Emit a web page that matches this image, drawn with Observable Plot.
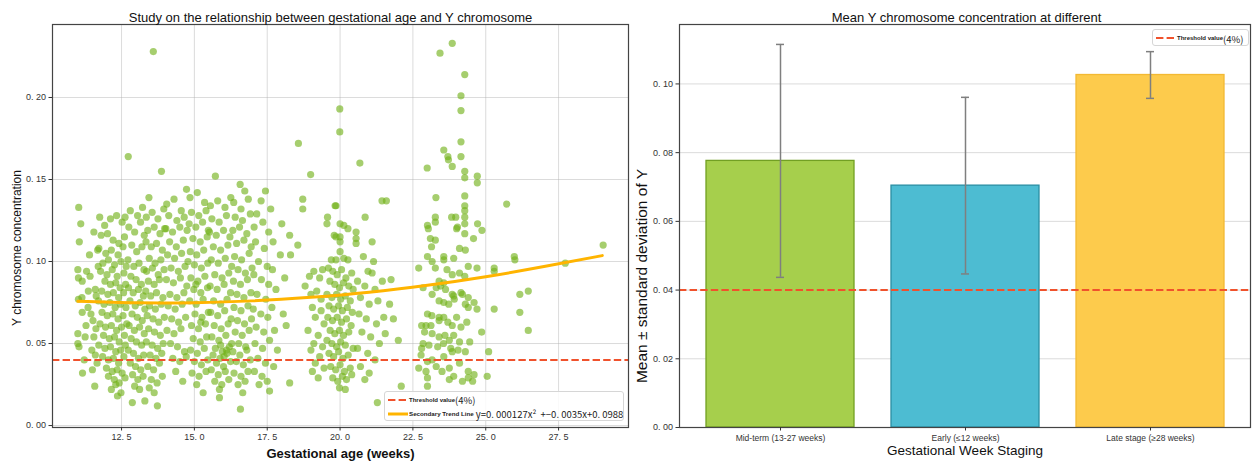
<!DOCTYPE html>
<html><head><meta charset="utf-8">
<script src="https://cdn.jsdelivr.net/npm/d3@7"></script>
<script src="https://cdn.jsdelivr.net/npm/@observablehq/plot@0.6"></script>
<style>
body{margin:0;background:#fff;}
#wrap{position:relative;width:1253px;height:468px;overflow:hidden;font-family:"Liberation Sans",Arial,sans-serif;}
.panel{position:absolute;top:0;}
.legend{position:absolute;border:1px solid #d6d6d6;background:rgba(255,255,255,0.85);border-radius:3px;box-sizing:border-box;}
.lg-row{position:absolute;left:0;white-space:pre;color:#222;line-height:12px;}
.small{font-family:"Liberation Sans Narrow","Liberation Sans",sans-serif;font-weight:bold;font-size:7px;}
.big{font-family:"Noto Sans CJK SC","Liberation Sans",sans-serif;font-size:9.5px;}
</style></head><body>
<div id="wrap"></div>
<script>
// ---------------- DATA ----------------
const threshold = 0.04;
const xTicksLeft = [12.5, 15, 17.5, 20, 22.5, 25, 27.5];
const yTicksLeft = [0, 0.05, 0.10, 0.15, 0.20];
const yTicksRight = [0, 0.02, 0.04, 0.06, 0.08, 0.10];

// quadratic trend line
const trendX = [11, 13, 15, 17, 19, 21, 23, 25, 27, 29];
const trendY = [0.0757, 0.0748, 0.0749, 0.0760, 0.0782, 0.0813, 0.0855, 0.0907, 0.0969, 0.1036];

// scatter: gestational age (weeks), Y concentration
const ptsEarly = [
[11.03,0.133],[11.05,0.112],[11.00,0.095],[11.02,0.090],[11.30,0.094],[11.15,0.088],[11.02,0.077],[11.14,0.078],[11.15,0.069],[11.00,0.056],[11.00,0.050],[11.04,0.048],[11.16,0.032],[11.25,0.054],[11.42,0.091],[11.55,0.118],[11.60,0.083],[11.63,0.079],[11.45,0.068],[11.62,0.059],[11.55,0.054],[11.60,0.043],[11.58,0.024],[11.50,0.034],[11.40,0.104],[11.35,0.072],[11.70,0.097],[11.68,0.107],[11.28,0.061],[11.48,0.046],[11.22,0.040],[11.66,0.038],[11.10,0.123],[11.36,0.082],[11.52,0.064],
[11.75,0.127],[11.92,0.122],[12.12,0.126],[12.33,0.128],[12.52,0.124],[12.62,0.127],[11.80,0.116],[12.02,0.117],[12.21,0.113],[12.41,0.111],[12.60,0.115],[11.72,0.108],[11.96,0.105],[12.15,0.107],[12.38,0.104],[12.55,0.109],[11.86,0.099],[12.05,0.101],[12.26,0.098],[12.48,0.100],[12.66,0.097],[11.78,0.094],[12.00,0.092],[12.18,0.095],[12.35,0.091],[12.58,0.093],[11.93,0.088],[12.12,0.086],[12.30,0.087],[12.45,0.084],[12.64,0.086],[11.82,0.082],[12.03,0.080],[12.22,0.081],[12.40,0.078],[12.57,0.081],[11.71,0.076],[11.90,0.074],[12.10,0.075],[12.28,0.072],[12.46,0.074],[12.65,0.072],[11.83,0.069],[12.01,0.067],[12.20,0.068],[12.38,0.065],[12.55,0.067],[11.76,0.062],[11.95,0.060],[12.15,0.061],[12.33,0.058],[12.50,0.060],[12.68,0.062],[11.88,0.055],[12.08,0.053],[12.26,0.054],[12.42,0.051],[12.60,0.055],[11.72,0.049],[11.93,0.047],[12.12,0.048],[12.30,0.045],[12.47,0.046],[12.63,0.049],[11.85,0.042],[12.05,0.040],[12.22,0.041],[12.40,0.038],[12.58,0.042],[11.98,0.035],[12.18,0.033],[12.35,0.034],[12.52,0.032],[12.05,0.030],[12.25,0.028],[12.42,0.026],[12.62,0.029],[12.15,0.022],[12.30,0.025],[12.48,0.020],[12.36,0.018]
];
const ptsMidA = [
[12.73,0.164],[12.80,0.131],[13.05,0.128],[13.22,0.133],[12.75,0.121],[12.95,0.118],[13.15,0.124],[13.28,0.116],[12.85,0.110],[13.02,0.106],[13.20,0.109],[12.72,0.101],[12.92,0.097],[13.10,0.099],[13.27,0.095],[12.82,0.091],[13.00,0.089],[13.18,0.086],[12.74,0.084],[12.90,0.081],[13.08,0.083],[13.25,0.079],[12.79,0.076],[12.97,0.073],[13.14,0.075],[13.30,0.071],[12.86,0.068],[13.04,0.066],[13.21,0.064],[12.76,0.061],[12.94,0.058],[13.12,0.060],[13.28,0.056],[12.83,0.053],[13.01,0.051],[13.19,0.049],[12.73,0.046],[12.91,0.044],[13.08,0.041],[13.26,0.043],[12.80,0.038],[12.98,0.036],[13.16,0.034],[12.88,0.031],[13.06,0.028],[13.24,0.030],[12.95,0.024],[13.12,0.022],[12.87,0.014],[13.30,0.015],
[13.59,0.228],[13.87,0.155],[13.44,0.139],[13.73,0.012],[13.35,0.127],[13.55,0.130],[13.75,0.126],[13.95,0.132],[13.40,0.119],[13.62,0.121],[13.82,0.117],[13.98,0.120],[13.34,0.112],[13.52,0.109],[13.70,0.111],[13.90,0.107],[13.45,0.102],[13.65,0.099],[13.85,0.101],[13.36,0.094],[13.56,0.096],[13.76,0.092],[13.96,0.095],[13.42,0.088],[13.62,0.086],[13.80,0.089],[13.33,0.082],[13.50,0.079],[13.70,0.081],[13.92,0.078],[13.46,0.073],[13.66,0.071],[13.86,0.074],[13.38,0.067],[13.58,0.065],[13.78,0.063],[13.97,0.066],[13.43,0.059],[13.63,0.057],[13.83,0.055],[13.35,0.051],[13.55,0.049],[13.74,0.047],[13.93,0.050],[13.48,0.043],[13.68,0.041],[13.88,0.044],[13.40,0.036],[13.60,0.034],[13.80,0.038],[13.52,0.028],[13.72,0.026],[13.90,0.030],[13.62,0.020],[13.45,0.023],
[14.73,0.144],[14.05,0.135],[14.30,0.138],[14.55,0.131],[14.12,0.128],[14.40,0.125],[14.65,0.127],[14.02,0.120],[14.25,0.118],[14.50,0.121],[14.75,0.119],[14.15,0.112],[14.38,0.109],[14.62,0.113],[14.08,0.104],[14.32,0.102],[14.56,0.105],[14.78,0.100],[14.20,0.096],[14.45,0.094],[14.68,0.097],[14.04,0.089],[14.28,0.087],[14.52,0.090],[14.74,0.085],[14.16,0.080],[14.40,0.078],[14.64,0.081],[14.10,0.073],[14.34,0.071],[14.58,0.074],[14.22,0.065],[14.46,0.063],[14.70,0.066],[14.06,0.058],[14.30,0.056],[14.54,0.059],[14.18,0.050],[14.42,0.048],[14.66,0.045],[14.26,0.041],[14.50,0.039],[14.72,0.042],[14.36,0.033],[14.60,0.027]
];
const ptsMidB = [
[14.85,0.139],[15.10,0.142],[15.35,0.136],[14.90,0.130],[15.15,0.128],[15.40,0.131],[14.82,0.123],[15.05,0.121],[15.28,0.124],[15.48,0.119],[14.95,0.114],[15.20,0.112],[15.44,0.115],[14.86,0.106],[15.08,0.104],[15.32,0.107],[15.00,0.098],[15.24,0.096],[15.46,0.099],[14.88,0.090],[15.12,0.088],[15.36,0.091],[14.98,0.083],[15.22,0.081],[15.45,0.084],[14.84,0.076],[15.06,0.074],[15.30,0.077],[15.02,0.068],[15.26,0.066],[15.48,0.069],[14.90,0.061],[15.14,0.059],[15.38,0.062],[14.96,0.053],[15.20,0.051],[15.42,0.054],[14.87,0.046],[15.10,0.044],[15.34,0.047],[15.00,0.039],[15.24,0.037],[15.46,0.040],[14.92,0.032],[15.16,0.030],[15.40,0.033],[15.08,0.025],[15.30,0.020],[15.22,0.063],[15.05,0.086],
[15.72,0.152],[15.86,0.017],[15.55,0.134],[15.80,0.137],[16.05,0.133],[16.25,0.139],[15.60,0.126],[15.85,0.124],[16.10,0.128],[15.52,0.118],[15.75,0.116],[16.00,0.119],[16.22,0.115],[15.65,0.109],[15.90,0.107],[16.15,0.110],[15.58,0.101],[15.82,0.099],[16.06,0.102],[16.28,0.097],[15.70,0.092],[15.95,0.090],[16.18,0.093],[15.54,0.085],[15.78,0.083],[16.02,0.086],[16.24,0.081],[15.66,0.076],[15.90,0.074],[16.12,0.077],[15.56,0.069],[15.80,0.067],[16.04,0.070],[16.26,0.065],[15.68,0.061],[15.92,0.059],[16.16,0.062],[15.60,0.054],[15.84,0.052],[16.08,0.055],[16.28,0.050],[15.72,0.047],[15.96,0.045],[16.20,0.048],[15.64,0.043],[15.88,0.041],[16.12,0.044],[15.76,0.038],[16.00,0.036],[16.24,0.039],[15.58,0.034],[15.82,0.031],[16.06,0.033],[15.70,0.027],[15.94,0.025],[16.18,0.028],[15.86,0.022],[16.10,0.046],[15.90,0.049],[16.02,0.042],
[16.57,0.147],[16.73,0.143],[16.58,0.010],[16.35,0.136],[16.60,0.132],[16.85,0.138],[16.40,0.127],[16.65,0.125],[16.92,0.129],[16.32,0.119],[16.55,0.121],[16.80,0.117],[16.45,0.111],[16.70,0.113],[16.95,0.109],[16.38,0.103],[16.62,0.101],[16.88,0.105],[16.50,0.095],[16.75,0.093],[16.98,0.096],[16.34,0.088],[16.58,0.086],[16.82,0.089],[16.46,0.080],[16.70,0.078],[16.94,0.081],[16.36,0.072],[16.60,0.070],[16.84,0.073],[16.48,0.064],[16.72,0.062],[16.96,0.065],[16.40,0.057],[16.64,0.055],[16.88,0.058],[16.52,0.050],[16.76,0.048],[16.32,0.045],[16.56,0.043],[16.80,0.046],[16.44,0.039],[16.68,0.037],[16.92,0.040],[16.36,0.032],[16.60,0.030],[16.84,0.033],[16.50,0.025],[16.74,0.027],[16.66,0.020],
[17.44,0.143],[17.29,0.137],[17.14,0.129],[17.58,0.021],[17.05,0.121],[17.35,0.124],[17.55,0.118],[17.10,0.112],[17.40,0.108],[17.20,0.100],[17.50,0.097],[17.04,0.092],[17.30,0.089],[17.55,0.086],[17.15,0.080],[17.45,0.077],[17.02,0.071],[17.28,0.068],[17.52,0.066],[17.12,0.060],[17.38,0.057],[17.08,0.050],[17.34,0.047],[17.58,0.052],[17.18,0.041],[17.44,0.038],[17.06,0.033],[17.32,0.030],[17.50,0.027],[17.22,0.025],
[17.62,0.132],[18.00,0.123],[18.27,0.116],[18.27,0.026],[17.70,0.112],[17.95,0.104],[17.68,0.095],[18.10,0.090],[17.80,0.083],[17.66,0.072],[18.05,0.068],[17.75,0.058],[18.15,0.061],[17.85,0.046],[17.72,0.036]
];
const ptsMidC = [
[18.57,0.172],[18.99,0.153],[19.99,0.193],[19.99,0.179],[20.68,0.160],[18.72,0.138],[18.72,0.132],[19.86,0.134],[21.44,0.137],[21.59,0.137],[19.57,0.127],[20.86,0.127],[18.55,0.110],[18.30,0.104],
[18.80,0.085],[19.00,0.080],[19.10,0.094],[18.95,0.091],[19.30,0.090],[19.40,0.095],[19.20,0.082],[19.05,0.072],[19.35,0.070],[19.15,0.066],[19.45,0.062],[18.90,0.058],[19.25,0.055],[19.10,0.050],[19.40,0.048],[19.00,0.046],[19.30,0.042],[19.15,0.038],[19.45,0.035],[19.05,0.033],[19.25,0.029],[19.35,0.077],
[19.55,0.123],[19.83,0.134],[20.00,0.123],[20.13,0.122],[20.27,0.120],[20.00,0.115],[19.86,0.115],[19.80,0.116],[20.00,0.112],[20.00,0.106],[19.86,0.101],[19.70,0.101],[20.13,0.102],[20.27,0.101],[19.60,0.096],[19.75,0.094],[19.90,0.092],[20.05,0.095],[20.20,0.090],[20.40,0.093],[19.65,0.088],[19.82,0.086],[19.98,0.084],[20.12,0.087],[20.30,0.085],[20.45,0.083],[19.55,0.080],[19.72,0.078],[19.88,0.080],[20.02,0.077],[20.18,0.079],[20.35,0.076],[19.62,0.073],[19.78,0.071],[19.95,0.073],[20.08,0.070],[20.25,0.072],[20.42,0.069],[19.58,0.066],[19.74,0.064],[19.90,0.066],[20.05,0.063],[20.22,0.065],[20.38,0.061],[19.66,0.058],[19.82,0.056],[19.98,0.058],[20.12,0.055],[20.30,0.057],[19.55,0.052],[19.72,0.050],[19.88,0.048],[20.02,0.051],[20.18,0.049],[20.45,0.047],[19.62,0.044],[19.78,0.042],[19.95,0.045],[20.10,0.041],[20.28,0.043],[19.68,0.036],[19.85,0.034],[20.00,0.037],[20.15,0.033],[20.35,0.035],[19.75,0.029],[19.92,0.027],[20.08,0.030],[20.22,0.028],[20.40,0.031],[19.98,0.023],[20.18,0.022],
[20.55,0.118],[20.55,0.114],[20.55,0.111],[21.10,0.112],[21.15,0.100],[20.80,0.103],[20.96,0.094],[21.10,0.093],[20.60,0.088],[20.85,0.085],[21.20,0.083],[21.45,0.088],[20.70,0.078],[21.00,0.074],[21.30,0.076],[20.65,0.068],[20.90,0.065],[21.25,0.062],[21.50,0.066],[20.75,0.057],[21.05,0.054],[21.35,0.050],[20.60,0.047],[20.95,0.044],[21.20,0.040],[20.70,0.036],[21.00,0.032],[20.85,0.028],[21.28,0.014],[22.10,0.024],[21.55,0.056],[21.75,0.089],[21.83,0.065],[22.00,0.052],[21.70,0.074]
];
const ptsMidD = [
[23.85,0.233],[23.43,0.227],[24.28,0.214],[24.15,0.201],[24.15,0.192],[24.15,0.173],[24.15,0.164],[23.56,0.168],[23.70,0.164],[23.72,0.162],[23.85,0.158],[22.99,0.157],[24.28,0.155],[24.28,0.151],[24.71,0.152],[24.71,0.148],[24.28,0.140],[23.29,0.139],
[24.28,0.134],[24.28,0.131],[24.28,0.127],[24.28,0.123],[24.28,0.117],[23.83,0.127],[23.97,0.127],[24.00,0.120],[24.03,0.121],[23.27,0.127],[23.27,0.124],[23.00,0.122],[23.03,0.120],[24.72,0.123],[24.87,0.119],[24.58,0.114],[23.10,0.114],[23.27,0.113],[23.14,0.109],[23.00,0.103],[24.30,0.107],[24.10,0.108],[23.90,0.102],[23.56,0.103],[23.56,0.101],[23.16,0.100],[22.70,0.096],
[23.27,0.096],[24.40,0.097],[24.70,0.096],[24.10,0.093],[24.28,0.091],[23.67,0.095],[23.85,0.092],[23.40,0.088],[23.56,0.087],[23.30,0.084],[23.45,0.085],[23.62,0.083],[23.85,0.080],[24.15,0.081],[22.85,0.084],[23.16,0.080],[23.40,0.076],[23.56,0.075],[23.73,0.074],[23.90,0.079],[23.92,0.077],[24.20,0.080],[24.40,0.078],[24.60,0.075],[24.30,0.074],[24.40,0.072],[24.70,0.071],[23.00,0.068],[23.15,0.067],[23.40,0.066],[23.56,0.066],[22.95,0.061],[23.12,0.061],[23.40,0.064],[23.70,0.063],[23.85,0.061],[24.00,0.066],[24.15,0.060],[24.35,0.063],[24.86,0.057],[22.80,0.061],[22.90,0.057],
[23.16,0.056],[23.40,0.054],[23.60,0.055],[23.75,0.052],[23.90,0.055],[24.10,0.051],[22.85,0.050],[23.05,0.049],[23.35,0.048],[23.55,0.050],[23.80,0.047],[24.05,0.046],[24.30,0.045],[24.45,0.051],[22.80,0.047],[22.78,0.043],[23.00,0.039],[23.16,0.040],[23.56,0.042],[23.85,0.045],[24.10,0.038],[22.70,0.035],[22.95,0.033],[23.00,0.029],[23.30,0.036],[23.50,0.033],[23.75,0.035],[23.90,0.030],[24.40,0.033],[24.55,0.027],[24.40,0.029],[23.00,0.024],[23.75,0.028],[24.20,0.027],[24.60,0.031]
];
const ptsLate = [
[25.29,0.096],[25.29,0.094],[25.29,0.071],[25.98,0.103],[26.00,0.101],[25.72,0.135],[26.17,0.080],[26.46,0.082],[26.17,0.069],[26.46,0.058],[27.73,0.099],[29.03,0.110],[25.10,0.045],[25.05,0.030]
];

// bar chart: stage, mean, standard deviation
const stages = ["Mid-term (13-27 weeks)", "Early (\u226412 weeks)", "Late stage (\u226528 weeks)"];
const stageMean = [0.0776, 0.0704, 0.1026];
const stageSd = [0.0339, 0.0257, 0.0068];

// styles
const barFill = ["#a6cf4c", "#4dbcd2", "#fdcb4c"];
const barStroke = ["#72a023", "#2a8ea3", "#f3b933"];
const FONT = '"Liberation Sans", Arial, sans-serif';
const dotFmt = (d, n) => d3.format(`.${n}f`)(d).replace(".", ". ");

// ---------------- LEFT PANEL ----------------
const points = [...ptsEarly, ...ptsMidA, ...ptsMidB, ...ptsMidC, ...ptsMidD, ...ptsLate].map(([x, y]) => ({x, y}));
const trend = trendX.map((x, i) => ({x, y: trendY[i]}));

const left = Plot.plot({
  width: 630, height: 468,
  marginLeft: 52, marginRight: 2, marginTop: 24, marginBottom: 41,
  style: {fontFamily: FONT, fontSize: "9px", color: "#333", background: "transparent", overflow: "visible"},
  x: {domain: [10.13, 29.9]},
  y: {domain: [-0.0012, 0.2445]},
  marks: [
    Plot.gridX(xTicksLeft, {stroke: "#b0b0b0", strokeOpacity: 0.45, strokeWidth: 1}),
    Plot.gridY(yTicksLeft, {stroke: "#b0b0b0", strokeOpacity: 0.45, strokeWidth: 1}),
    Plot.dot(points, {x: "x", y: "y", r: 3.6, fill: "#72b21a", fillOpacity: 0.63}),
    Plot.ruleY([threshold], {stroke: "#f0522c", strokeWidth: 2, strokeDasharray: "7.4,3.2"}),
    Plot.line(trend, {x: "x", y: "y", stroke: "#ffb400", strokeWidth: 3, curve: "natural"}),
    Plot.frame({stroke: "#444", strokeWidth: 1.2}),
    Plot.axisX(xTicksLeft, {tickFormat: d => dotFmt(d, 1), tickSize: 3.5, tickPadding: 3, label: null, fontSize: 9}),
    Plot.axisY(yTicksLeft, {tickFormat: d => dotFmt(d, 2), tickSize: 3.5, tickPadding: 3, label: null, fontSize: 9}),
    Plot.text(["Study on the relationship between gestational age and Y chromosome"], {frameAnchor: "top", dy: -12, dx: -10, fontSize: 13, fill: "#111"}),
    Plot.text(["Gestational age (weeks)"], {frameAnchor: "bottom", dy: 30, fontSize: 13, fontWeight: "bold", fill: "#111"}),
    Plot.text(["Y chromosome concentration"], {frameAnchor: "left", textAnchor: "middle", rotate: -90, dx: -35, dy: 22, fontSize: 12, fill: "#111"})
  ]
});
left.classList.add("panel");
left.style.left = "0px";

// ---------------- RIGHT PANEL ----------------
const table = stages.map((s, i) => ({stage: s, mean: stageMean[i], lo: stageMean[i] - stageSd[i], hi: stageMean[i] + stageSd[i], fill: barFill[i], stroke: barStroke[i]}));

const right = Plot.plot({
  width: 623, height: 468,
  marginLeft: 49, marginRight: 3, marginTop: 24, marginBottom: 41,
  style: {fontFamily: FONT, fontSize: "9px", color: "#333", background: "transparent", overflow: "visible"},
  x: {type: "band", domain: stages, paddingInner: 0.2, paddingOuter: 0.14},
  y: {domain: [0, 0.1173]},
  color: {type: "identity"},
  marks: [
    Plot.gridY(yTicksRight.slice(1), {stroke: "#b0b0b0", strokeOpacity: 0.45, strokeWidth: 1}),
    Plot.barY(table, {x: "stage", y: "mean", fill: "fill", stroke: "stroke", strokeWidth: 1.3}),
    Plot.ruleX(table, {x: "stage", y1: "lo", y2: "hi", stroke: "#7f7f7f", strokeWidth: 1.5}),
    Plot.tickY(table, {x: "stage", y: "lo", stroke: "#7f7f7f", strokeWidth: 1.5, insetLeft: 70, insetRight: 70}),
    Plot.tickY(table, {x: "stage", y: "hi", stroke: "#7f7f7f", strokeWidth: 1.5, insetLeft: 70, insetRight: 70}),
    Plot.ruleY([threshold], {stroke: "#f0522c", strokeWidth: 2, strokeDasharray: "7.4,3.2"}),
    Plot.frame({stroke: "#444", strokeWidth: 1.2}),
    Plot.axisX({tickSize: 3.5, tickPadding: 4, label: null, fontSize: 8.5}),
    Plot.axisY(yTicksRight, {tickFormat: d => dotFmt(d, 2), tickSize: 3.5, tickPadding: 3, label: null, fontSize: 9}),
    Plot.text(["Mean Y chromosome concentration at different"], {frameAnchor: "top", dy: -12, dx: 1.5, fontSize: 13, fill: "#111"}),
    Plot.text(["Gestational Week Staging"], {frameAnchor: "bottom", dy: 27, fontSize: 13.5, fill: "#111"}),
    Plot.text(["Mean \u00b1 standard deviation of Y"], {frameAnchor: "left", textAnchor: "middle", rotate: -90, dx: -37, dy: 50, fontSize: 15.5, fill: "#111"})
  ]
});
right.classList.add("panel");
right.style.left = "630px";

const wrap = document.getElementById("wrap");
wrap.appendChild(left);
wrap.appendChild(right);

// ---------------- LEGENDS ----------------
function legendBox(x, y, w, h, rows) {
  const box = document.createElement("div");
  box.className = "legend";
  Object.assign(box.style, {left: x + "px", top: y + "px", width: w + "px", height: h + "px"});
  rows.forEach(r => {
    const row = document.createElement("div");
    row.className = "lg-row";
    row.style.top = r.top + "px";
    row.style.left = "3px";
    row.style.height = "12px";
    const sw = `<svg width="20" height="12" style="vertical-align:middle">` +
      (r.dash ? `<line x1="0" y1="6" x2="20" y2="6" stroke="#f0522c" stroke-width="2" stroke-dasharray="7.4,3.2"/>`
              : `<line x1="0" y1="6" x2="20" y2="6" stroke="#ffb400" stroke-width="3"/>`) + `</svg>`;
    row.innerHTML = sw + `<span class="small" style="vertical-align:middle;margin-left:1px;font-size:${r.fs}px">${r.a}</span>` +
      `<span class="big" style="vertical-align:middle">${r.b}</span>`;
    box.appendChild(row);
  });
  wrap.appendChild(box);
}
legendBox(384, 391, 240, 30, [
  {top: 1, dash: true, fs: 6, a: "Threshold value", b: "(4%)"},
  {top: 15, dash: false, fs: 6.2, a: "Secondary Trend Line", b: " y=0. 000127x\u00b2  +\u22120. 0035x+0. 0988"}
]);
legendBox(1152, 29, 97, 17, [
  {top: 1.5, dash: true, fs: 6, a: "Threshold value", b: "(4%)"}
]);
</script>
</body></html>
